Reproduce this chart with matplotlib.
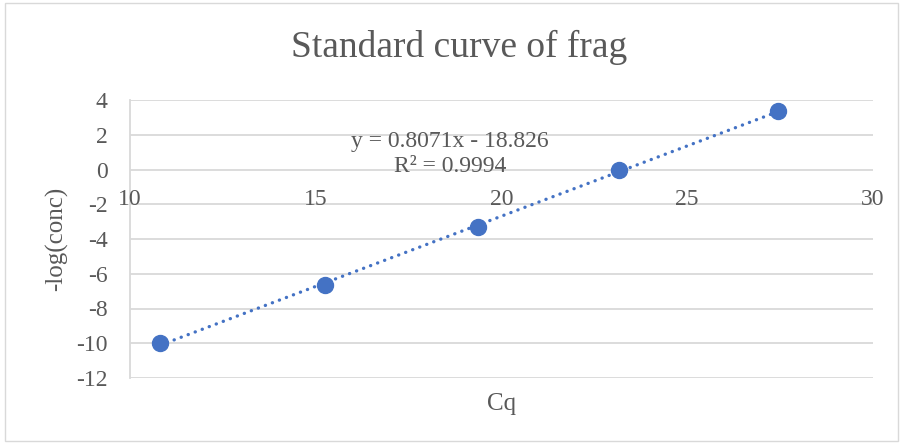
import numpy as np
import matplotlib
matplotlib.use("Agg")
import matplotlib.pyplot as plt
from matplotlib.patches import Rectangle

plt.rcParams['font.family'] = ['Liberation Serif', 'DejaVu Serif']
plt.rcParams['axes.unicode_minus'] = False

# data
cq = [10.81, 15.25, 19.37, 23.16, 27.44]
neg_log_conc = [-9.99, -6.65, -3.31, -0.03, 3.35]
eq_text = "y = 0.8071x - 18.826"
r2_text = "R² = 0.9994"
x_ticks = [10, 15, 20, 25, 30]
y_ticks = [-12, -10, -8, -6, -4, -2, 0, 2, 4]

text_col = '#595959'
grid_col = '#d9d9d9'
blue = '#4472C4'

fig = plt.figure(figsize=(9.03, 4.45), dpi=100)
ax = fig.add_axes([130 / 903, 1 - 378 / 445, 743 / 903, 278 / 445])

# trendline (linear fit)
slope, icpt = np.polyfit(cq, neg_log_conc, 1)
xs = np.array([min(cq), max(cq)])
ax.plot(xs, slope * xs + icpt, color=blue, lw=2.4,
        linestyle=(0, (0.05, 2.2)), dash_capstyle='round', zorder=3)
ax.plot(cq, neg_log_conc, 'o', color=blue, markersize=11.5, zorder=4)

ax.set_xlim(10, 30)
ax.set_ylim(-12, 4)
ax.set_yticks(y_ticks)
ax.set_xticks(x_ticks)
ax.yaxis.grid(True, color=grid_col, lw=1.3)
ax.set_axisbelow(True)

for s in ['top', 'right', 'bottom']:
    ax.spines[s].set_visible(False)
ax.spines['left'].set_color(grid_col)
ax.spines['left'].set_linewidth(1.3)

# x axis crosses at y = 0, labels sit just under it
ax.tick_params(axis='both', length=0, labelsize=17, colors=text_col)
ax.tick_params(axis='y', pad=16)
ax.set_xticklabels([])
for x in x_ticks:
    ax.text(x, -1.7, str(x), ha='center', va='center', fontsize=17,
            color=text_col)

fig.text(57 / 903, 1 - 239 / 445, '-log(conc)', ha='center', va='center',
         rotation=90, fontsize=18, color=text_col)
fig.text(502 / 903, 1 - 404 / 445, 'Cq', ha='center', va='center',
         fontsize=18, color=text_col)
fig.text(459 / 903, 1 - 47 / 445, 'Standard curve of frag', ha='center',
         va='center', fontsize=27, color=text_col)

fig.text(450 / 903, 1 - 141 / 445, eq_text, ha='center', va='center',
         fontsize=17, color=text_col)
fig.text(450 / 903, 1 - 166 / 445, r2_text, ha='center', va='center',
         fontsize=17, color=text_col)

fig.patches.append(Rectangle((5 / 903, 4 / 445), 893 / 903, 438 / 445,
                             transform=fig.transFigure, fill=False,
                             edgecolor=grid_col, lw=1))

fig.savefig('out.png', dpi=100)
